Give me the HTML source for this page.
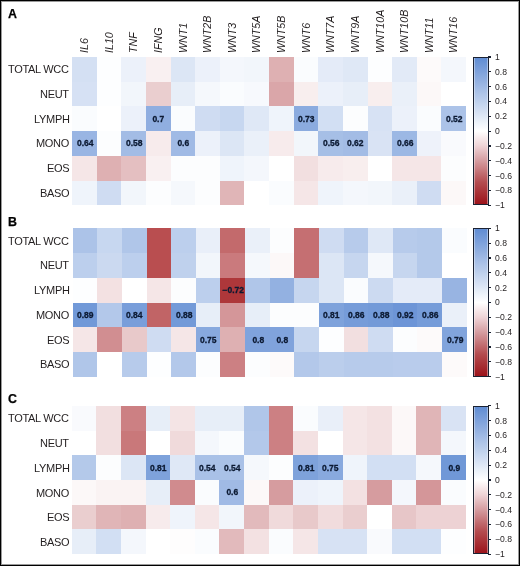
<!DOCTYPE html><html><head><meta charset="utf-8"><style>
html,body{margin:0;padding:0;background:#fff;}
body{width:520px;height:566px;position:relative;overflow:hidden;font-family:"Liberation Sans",sans-serif;color:#231f20;}
.frame{position:absolute;left:0;top:0;width:520px;height:566px;box-sizing:border-box;box-shadow:inset 0 0 0 1px #000, inset 0 0 0 2px #9a9a9a;z-index:10;pointer-events:none;}
.c{position:absolute;}
.pl{position:absolute;will-change:transform;font-weight:bold;font-size:12.4px;line-height:13px;color:#000;-webkit-text-stroke:0.25px #000;}
.rl{position:absolute;will-change:transform;right:450.9px;font-size:11px;line-height:12px;letter-spacing:-0.3px;text-align:right;white-space:nowrap;}
.cl{position:absolute;will-change:transform;font-size:10.7px;line-height:11px;font-style:italic;white-space:nowrap;transform:rotate(-90deg);transform-origin:0 0;}
.an{position:absolute;will-change:transform;font-weight:bold;font-size:8.5px;line-height:8px;color:#0c1a33;text-align:center;white-space:nowrap;-webkit-text-stroke:0.3px #0c1a33;}
.cb{position:absolute;box-sizing:border-box;border:1.5px solid #1b2233;box-shadow:inset 1px 0 0 rgba(255,255,255,0.4), inset -1px 0 0 rgba(255,255,255,0.4);}
.tk{position:absolute;height:1.2px;width:3px;background:#1b2233;}
.tl{position:absolute;will-change:transform;font-size:8.6px;line-height:9px;white-space:nowrap;}
</style></head><body>
<div class="frame"></div>

<div class="pl" style="left:7.6px;top:8.30px">A</div>
<div class="pl" style="left:7.6px;top:215.60px">B</div>
<div class="pl" style="left:7.6px;top:393.10px">C</div>
<div class="cl" style="left:79.11px;top:53.2px">IL6</div>
<div class="cl" style="left:103.74px;top:53.2px">IL10</div>
<div class="cl" style="left:128.36px;top:53.2px">TNF</div>
<div class="cl" style="left:152.99px;top:53.2px">IFNG</div>
<div class="cl" style="left:177.61px;top:53.2px">WNT1</div>
<div class="cl" style="left:202.24px;top:53.2px">WNT2B</div>
<div class="cl" style="left:226.86px;top:53.2px">WNT3</div>
<div class="cl" style="left:251.49px;top:53.2px">WNT5A</div>
<div class="cl" style="left:276.11px;top:53.2px">WNT5B</div>
<div class="cl" style="left:300.74px;top:53.2px">WNT6</div>
<div class="cl" style="left:325.36px;top:53.2px">WNT7A</div>
<div class="cl" style="left:349.99px;top:53.2px">WNT9A</div>
<div class="cl" style="left:374.61px;top:53.2px">WNT10A</div>
<div class="cl" style="left:399.24px;top:53.2px">WNT10B</div>
<div class="cl" style="left:423.86px;top:53.2px">WNT11</div>
<div class="cl" style="left:448.49px;top:53.2px">WNT16</div>
<div class="rl" style="top:63.07px">TOTAL WCC</div>
<div class="c" style="left:72.00px;top:57.00px;width:24.64px;height:24.75px;background:rgb(212,224,243)"></div>
<div class="c" style="left:96.62px;top:57.00px;width:24.64px;height:24.75px;background:rgb(253,254,255)"></div>
<div class="c" style="left:121.25px;top:57.00px;width:24.64px;height:24.75px;background:rgb(236,241,250)"></div>
<div class="c" style="left:145.88px;top:57.00px;width:24.64px;height:24.75px;background:rgb(249,240,241)"></div>
<div class="c" style="left:170.50px;top:57.00px;width:24.64px;height:24.75px;background:rgb(220,230,245)"></div>
<div class="c" style="left:195.12px;top:57.00px;width:24.64px;height:24.75px;background:rgb(236,241,250)"></div>
<div class="c" style="left:219.75px;top:57.00px;width:24.64px;height:24.75px;background:rgb(244,247,252)"></div>
<div class="c" style="left:244.38px;top:57.00px;width:24.64px;height:24.75px;background:rgb(242,246,251)"></div>
<div class="c" style="left:269.00px;top:57.00px;width:24.64px;height:24.75px;background:rgb(222,176,178)"></div>
<div class="c" style="left:293.62px;top:57.00px;width:24.64px;height:24.75px;background:rgb(250,252,254)"></div>
<div class="c" style="left:318.25px;top:57.00px;width:24.64px;height:24.75px;background:rgb(228,235,248)"></div>
<div class="c" style="left:342.88px;top:57.00px;width:24.64px;height:24.75px;background:rgb(223,232,246)"></div>
<div class="c" style="left:367.50px;top:57.00px;width:24.64px;height:24.75px;background:rgb(253,254,255)"></div>
<div class="c" style="left:392.12px;top:57.00px;width:24.64px;height:24.75px;background:rgb(226,234,247)"></div>
<div class="c" style="left:416.75px;top:57.00px;width:24.64px;height:24.75px;background:rgb(253,250,250)"></div>
<div class="c" style="left:441.38px;top:57.00px;width:24.64px;height:24.75px;background:rgb(244,247,252)"></div>
<div class="rl" style="top:87.80px">NEUT</div>
<div class="c" style="left:72.00px;top:81.73px;width:24.64px;height:24.75px;background:rgb(214,225,244)"></div>
<div class="c" style="left:96.62px;top:81.73px;width:24.64px;height:24.75px;background:rgb(253,254,255)"></div>
<div class="c" style="left:121.25px;top:81.73px;width:24.64px;height:24.75px;background:rgb(242,246,251)"></div>
<div class="c" style="left:145.88px;top:81.73px;width:24.64px;height:24.75px;background:rgb(234,206,207)"></div>
<div class="c" style="left:170.50px;top:81.73px;width:24.64px;height:24.75px;background:rgb(231,238,248)"></div>
<div class="c" style="left:195.12px;top:81.73px;width:24.64px;height:24.75px;background:rgb(245,248,252)"></div>
<div class="c" style="left:219.75px;top:81.73px;width:24.64px;height:24.75px;background:rgb(250,252,254)"></div>
<div class="c" style="left:244.38px;top:81.73px;width:24.64px;height:24.75px;background:rgb(247,249,253)"></div>
<div class="c" style="left:269.00px;top:81.73px;width:24.64px;height:24.75px;background:rgb(218,166,169)"></div>
<div class="c" style="left:293.62px;top:81.73px;width:24.64px;height:24.75px;background:rgb(248,238,238)"></div>
<div class="c" style="left:318.25px;top:81.73px;width:24.64px;height:24.75px;background:rgb(236,241,250)"></div>
<div class="c" style="left:342.88px;top:81.73px;width:24.64px;height:24.75px;background:rgb(231,238,248)"></div>
<div class="c" style="left:367.50px;top:81.73px;width:24.64px;height:24.75px;background:rgb(248,238,238)"></div>
<div class="c" style="left:392.12px;top:81.73px;width:24.64px;height:24.75px;background:rgb(234,240,249)"></div>
<div class="c" style="left:416.75px;top:81.73px;width:24.64px;height:24.75px;background:rgb(252,248,248)"></div>
<div class="c" style="left:441.38px;top:81.73px;width:24.64px;height:24.75px;background:rgb(255,255,255)"></div>
<div class="rl" style="top:112.53px">LYMPH</div>
<div class="c" style="left:72.00px;top:106.47px;width:24.64px;height:24.75px;background:rgb(250,252,254)"></div>
<div class="c" style="left:96.62px;top:106.47px;width:24.64px;height:24.75px;background:rgb(255,255,255)"></div>
<div class="c" style="left:121.25px;top:106.47px;width:24.64px;height:24.75px;background:rgb(236,241,250)"></div>
<div class="c" style="left:145.88px;top:106.47px;width:24.64px;height:24.75px;background:rgb(144,174,224)"></div>
<div class="an" style="left:146.38px;top:114.73px;width:24.62px">0.7</div>
<div class="c" style="left:170.50px;top:106.47px;width:24.64px;height:24.75px;background:rgb(250,252,254)"></div>
<div class="c" style="left:195.12px;top:106.47px;width:24.64px;height:24.75px;background:rgb(207,220,242)"></div>
<div class="c" style="left:219.75px;top:106.47px;width:24.64px;height:24.75px;background:rgb(199,215,240)"></div>
<div class="c" style="left:244.38px;top:106.47px;width:24.64px;height:24.75px;background:rgb(223,232,246)"></div>
<div class="c" style="left:269.00px;top:106.47px;width:24.64px;height:24.75px;background:rgb(239,244,251)"></div>
<div class="c" style="left:293.62px;top:106.47px;width:24.64px;height:24.75px;background:rgb(139,171,223)"></div>
<div class="an" style="left:294.12px;top:114.73px;width:24.62px">0.73</div>
<div class="c" style="left:318.25px;top:106.47px;width:24.64px;height:24.75px;background:rgb(210,223,243)"></div>
<div class="c" style="left:342.88px;top:106.47px;width:24.64px;height:24.75px;background:rgb(252,253,254)"></div>
<div class="c" style="left:367.50px;top:106.47px;width:24.64px;height:24.75px;background:rgb(215,226,244)"></div>
<div class="c" style="left:392.12px;top:106.47px;width:24.64px;height:24.75px;background:rgb(236,241,250)"></div>
<div class="c" style="left:416.75px;top:106.47px;width:24.64px;height:24.75px;background:rgb(250,252,254)"></div>
<div class="c" style="left:441.38px;top:106.47px;width:24.64px;height:24.75px;background:rgb(172,195,232)"></div>
<div class="an" style="left:441.88px;top:114.73px;width:24.62px">0.52</div>
<div class="rl" style="top:137.27px">MONO</div>
<div class="c" style="left:72.00px;top:131.20px;width:24.64px;height:24.75px;background:rgb(153,181,227)"></div>
<div class="an" style="left:72.50px;top:139.47px;width:24.62px">0.64</div>
<div class="c" style="left:96.62px;top:131.20px;width:24.64px;height:24.75px;background:rgb(252,253,254)"></div>
<div class="c" style="left:121.25px;top:131.20px;width:24.64px;height:24.75px;background:rgb(163,188,229)"></div>
<div class="an" style="left:121.75px;top:139.47px;width:24.62px">0.58</div>
<div class="c" style="left:145.88px;top:131.20px;width:24.64px;height:24.75px;background:rgb(247,235,236)"></div>
<div class="c" style="left:170.50px;top:131.20px;width:24.64px;height:24.75px;background:rgb(160,186,229)"></div>
<div class="an" style="left:171.00px;top:139.47px;width:24.62px">0.6</div>
<div class="c" style="left:195.12px;top:131.20px;width:24.64px;height:24.75px;background:rgb(236,241,250)"></div>
<div class="c" style="left:219.75px;top:131.20px;width:24.64px;height:24.75px;background:rgb(220,230,245)"></div>
<div class="c" style="left:244.38px;top:131.20px;width:24.64px;height:24.75px;background:rgb(234,240,249)"></div>
<div class="c" style="left:269.00px;top:131.20px;width:24.64px;height:24.75px;background:rgb(247,235,236)"></div>
<div class="c" style="left:293.62px;top:131.20px;width:24.64px;height:24.75px;background:rgb(242,246,251)"></div>
<div class="c" style="left:318.25px;top:131.20px;width:24.64px;height:24.75px;background:rgb(166,191,230)"></div>
<div class="an" style="left:318.75px;top:139.47px;width:24.62px">0.56</div>
<div class="c" style="left:342.88px;top:131.20px;width:24.64px;height:24.75px;background:rgb(163,188,229)"></div>
<div class="an" style="left:343.38px;top:139.47px;width:24.62px">0.62</div>
<div class="c" style="left:367.50px;top:131.20px;width:24.64px;height:24.75px;background:rgb(217,227,244)"></div>
<div class="c" style="left:392.12px;top:131.20px;width:24.64px;height:24.75px;background:rgb(156,184,228)"></div>
<div class="an" style="left:392.62px;top:139.47px;width:24.62px">0.66</div>
<div class="c" style="left:416.75px;top:131.20px;width:24.64px;height:24.75px;background:rgb(238,242,250)"></div>
<div class="c" style="left:441.38px;top:131.20px;width:24.64px;height:24.75px;background:rgb(249,250,253)"></div>
<div class="rl" style="top:162.00px">EOS</div>
<div class="c" style="left:72.00px;top:155.93px;width:24.64px;height:24.75px;background:rgb(245,230,231)"></div>
<div class="c" style="left:96.62px;top:155.93px;width:24.64px;height:24.75px;background:rgb(222,176,178)"></div>
<div class="c" style="left:121.25px;top:155.93px;width:24.64px;height:24.75px;background:rgb(228,191,193)"></div>
<div class="c" style="left:145.88px;top:155.93px;width:24.64px;height:24.75px;background:rgb(249,240,241)"></div>
<div class="c" style="left:170.50px;top:155.93px;width:24.64px;height:24.75px;background:rgb(252,253,254)"></div>
<div class="c" style="left:195.12px;top:155.93px;width:24.64px;height:24.75px;background:rgb(252,253,254)"></div>
<div class="c" style="left:219.75px;top:155.93px;width:24.64px;height:24.75px;background:rgb(239,244,251)"></div>
<div class="c" style="left:244.38px;top:155.93px;width:24.64px;height:24.75px;background:rgb(244,247,252)"></div>
<div class="c" style="left:269.00px;top:155.93px;width:24.64px;height:24.75px;background:rgb(255,255,255)"></div>
<div class="c" style="left:293.62px;top:155.93px;width:24.64px;height:24.75px;background:rgb(242,223,224)"></div>
<div class="c" style="left:318.25px;top:155.93px;width:24.64px;height:24.75px;background:rgb(247,235,236)"></div>
<div class="c" style="left:342.88px;top:155.93px;width:24.64px;height:24.75px;background:rgb(248,238,238)"></div>
<div class="c" style="left:367.50px;top:155.93px;width:24.64px;height:24.75px;background:rgb(255,255,255)"></div>
<div class="c" style="left:392.12px;top:155.93px;width:24.64px;height:24.75px;background:rgb(245,230,231)"></div>
<div class="c" style="left:416.75px;top:155.93px;width:24.64px;height:24.75px;background:rgb(245,230,231)"></div>
<div class="c" style="left:441.38px;top:155.93px;width:24.64px;height:24.75px;background:rgb(252,253,254)"></div>
<div class="rl" style="top:186.73px">BASO</div>
<div class="c" style="left:72.00px;top:180.67px;width:24.64px;height:24.75px;background:rgb(239,244,251)"></div>
<div class="c" style="left:96.62px;top:180.67px;width:24.64px;height:24.75px;background:rgb(207,220,242)"></div>
<div class="c" style="left:121.25px;top:180.67px;width:24.64px;height:24.75px;background:rgb(242,246,251)"></div>
<div class="c" style="left:145.88px;top:180.67px;width:24.64px;height:24.75px;background:rgb(252,253,254)"></div>
<div class="c" style="left:170.50px;top:180.67px;width:24.64px;height:24.75px;background:rgb(245,248,252)"></div>
<div class="c" style="left:195.12px;top:180.67px;width:24.64px;height:24.75px;background:rgb(252,253,254)"></div>
<div class="c" style="left:219.75px;top:180.67px;width:24.64px;height:24.75px;background:rgb(224,181,183)"></div>
<div class="c" style="left:244.38px;top:180.67px;width:24.64px;height:24.75px;background:rgb(255,255,255)"></div>
<div class="c" style="left:269.00px;top:180.67px;width:24.64px;height:24.75px;background:rgb(250,252,254)"></div>
<div class="c" style="left:293.62px;top:180.67px;width:24.64px;height:24.75px;background:rgb(245,230,231)"></div>
<div class="c" style="left:318.25px;top:180.67px;width:24.64px;height:24.75px;background:rgb(239,244,251)"></div>
<div class="c" style="left:342.88px;top:180.67px;width:24.64px;height:24.75px;background:rgb(244,247,252)"></div>
<div class="c" style="left:367.50px;top:180.67px;width:24.64px;height:24.75px;background:rgb(242,246,251)"></div>
<div class="c" style="left:392.12px;top:180.67px;width:24.64px;height:24.75px;background:rgb(234,240,249)"></div>
<div class="c" style="left:416.75px;top:180.67px;width:24.64px;height:24.75px;background:rgb(207,220,242)"></div>
<div class="c" style="left:441.38px;top:180.67px;width:24.64px;height:24.75px;background:rgb(252,248,248)"></div>
<div class="cb" style="left:473.0px;top:57.00px;width:15.5px;height:148.4px;background:linear-gradient(to bottom,rgb(96,140,211) 0.0%,rgb(104,146,213) 2.5%,rgb(112,152,215) 5.0%,rgb(120,157,218) 7.5%,rgb(128,163,220) 10.0%,rgb(136,169,222) 12.5%,rgb(144,174,224) 15.0%,rgb(152,180,226) 17.5%,rgb(160,186,229) 20.0%,rgb(168,192,231) 22.5%,rgb(176,198,233) 25.0%,rgb(183,203,235) 27.5%,rgb(191,209,237) 30.0%,rgb(199,215,240) 32.5%,rgb(207,220,242) 35.0%,rgb(215,226,244) 37.5%,rgb(223,232,246) 40.0%,rgb(231,238,248) 42.5%,rgb(239,244,251) 45.0%,rgb(247,249,253) 47.5%,rgb(255,255,255) 50.0%,rgb(251,244,245) 52.5%,rgb(247,233,235) 55.0%,rgb(243,223,225) 57.5%,rgb(239,212,215) 60.0%,rgb(233,198,202) 62.5%,rgb(226,185,188) 65.0%,rgb(220,171,175) 67.5%,rgb(214,158,162) 70.0%,rgb(208,144,148) 72.5%,rgb(203,131,135) 75.0%,rgb(197,117,121) 77.5%,rgb(191,103,107) 80.0%,rgb(186,90,94) 82.5%,rgb(180,76,80) 85.0%,rgb(176,67,71) 87.5%,rgb(172,57,62) 90.0%,rgb(168,48,53) 92.5%,rgb(164,39,45) 95.0%,rgb(160,29,36) 97.5%,rgb(156,20,27) 100.0%)"></div>
<div class="tk" style="left:488.30px;top:56.40px"></div>
<div class="tl" style="left:494.8px;top:52.90px">1</div>
<div class="tk" style="left:488.30px;top:71.24px"></div>
<div class="tl" style="left:494.8px;top:67.74px">0.8</div>
<div class="tk" style="left:488.30px;top:86.08px"></div>
<div class="tl" style="left:494.8px;top:82.58px">0.6</div>
<div class="tk" style="left:488.30px;top:100.92px"></div>
<div class="tl" style="left:494.8px;top:97.42px">0.4</div>
<div class="tk" style="left:488.30px;top:115.76px"></div>
<div class="tl" style="left:494.8px;top:112.26px">0.2</div>
<div class="tk" style="left:488.30px;top:130.60px"></div>
<div class="tl" style="left:494.8px;top:127.10px">0</div>
<div class="tk" style="left:488.30px;top:145.44px"></div>
<div class="tl" style="left:494.8px;top:141.94px">−0.2</div>
<div class="tk" style="left:488.30px;top:160.28px"></div>
<div class="tl" style="left:494.8px;top:156.78px">−0.4</div>
<div class="tk" style="left:488.30px;top:175.12px"></div>
<div class="tl" style="left:494.8px;top:171.62px">−0.6</div>
<div class="tk" style="left:488.30px;top:189.96px"></div>
<div class="tl" style="left:494.8px;top:186.46px">−0.8</div>
<div class="tk" style="left:488.30px;top:204.80px"></div>
<div class="tl" style="left:494.8px;top:201.30px">−1</div>
<div class="rl" style="top:234.57px">TOTAL WCC</div>
<div class="c" style="left:72.70px;top:228.30px;width:24.64px;height:24.75px;background:rgb(172,195,232)"></div>
<div class="c" style="left:97.33px;top:228.30px;width:24.64px;height:24.75px;background:rgb(199,215,240)"></div>
<div class="c" style="left:121.95px;top:228.30px;width:24.64px;height:24.75px;background:rgb(176,198,233)"></div>
<div class="c" style="left:146.57px;top:228.30px;width:24.64px;height:24.75px;background:rgb(185,78,80)"></div>
<div class="c" style="left:171.20px;top:228.30px;width:24.64px;height:24.75px;background:rgb(188,207,237)"></div>
<div class="c" style="left:195.82px;top:228.30px;width:24.64px;height:24.75px;background:rgb(233,239,249)"></div>
<div class="c" style="left:220.45px;top:228.30px;width:24.64px;height:24.75px;background:rgb(195,106,108)"></div>
<div class="c" style="left:245.07px;top:228.30px;width:24.64px;height:24.75px;background:rgb(234,240,249)"></div>
<div class="c" style="left:269.70px;top:228.30px;width:24.64px;height:24.75px;background:rgb(252,253,254)"></div>
<div class="c" style="left:294.32px;top:228.30px;width:24.64px;height:24.75px;background:rgb(197,111,114)"></div>
<div class="c" style="left:318.95px;top:228.30px;width:24.64px;height:24.75px;background:rgb(207,220,242)"></div>
<div class="c" style="left:343.57px;top:228.30px;width:24.64px;height:24.75px;background:rgb(183,203,235)"></div>
<div class="c" style="left:368.20px;top:228.30px;width:24.64px;height:24.75px;background:rgb(223,232,246)"></div>
<div class="c" style="left:392.82px;top:228.30px;width:24.64px;height:24.75px;background:rgb(183,203,235)"></div>
<div class="c" style="left:417.45px;top:228.30px;width:24.64px;height:24.75px;background:rgb(180,201,234)"></div>
<div class="c" style="left:442.07px;top:228.30px;width:24.64px;height:24.75px;background:rgb(250,252,254)"></div>
<div class="rl" style="top:259.30px">NEUT</div>
<div class="c" style="left:72.70px;top:253.03px;width:24.64px;height:24.75px;background:rgb(188,207,237)"></div>
<div class="c" style="left:97.33px;top:253.03px;width:24.64px;height:24.75px;background:rgb(203,217,240)"></div>
<div class="c" style="left:121.95px;top:253.03px;width:24.64px;height:24.75px;background:rgb(188,207,237)"></div>
<div class="c" style="left:146.57px;top:253.03px;width:24.64px;height:24.75px;background:rgb(185,78,80)"></div>
<div class="c" style="left:171.20px;top:253.03px;width:24.64px;height:24.75px;background:rgb(191,209,237)"></div>
<div class="c" style="left:195.82px;top:253.03px;width:24.64px;height:24.75px;background:rgb(242,246,251)"></div>
<div class="c" style="left:220.45px;top:253.03px;width:24.64px;height:24.75px;background:rgb(202,122,125)"></div>
<div class="c" style="left:245.07px;top:253.03px;width:24.64px;height:24.75px;background:rgb(245,248,252)"></div>
<div class="c" style="left:269.70px;top:253.03px;width:24.64px;height:24.75px;background:rgb(252,248,248)"></div>
<div class="c" style="left:294.32px;top:253.03px;width:24.64px;height:24.75px;background:rgb(197,111,114)"></div>
<div class="c" style="left:318.95px;top:253.03px;width:24.64px;height:24.75px;background:rgb(220,230,245)"></div>
<div class="c" style="left:343.57px;top:253.03px;width:24.64px;height:24.75px;background:rgb(198,214,239)"></div>
<div class="c" style="left:368.20px;top:253.03px;width:24.64px;height:24.75px;background:rgb(245,248,252)"></div>
<div class="c" style="left:392.82px;top:253.03px;width:24.64px;height:24.75px;background:rgb(198,214,239)"></div>
<div class="c" style="left:417.45px;top:253.03px;width:24.64px;height:24.75px;background:rgb(180,201,234)"></div>
<div class="c" style="left:442.07px;top:253.03px;width:24.64px;height:24.75px;background:rgb(255,255,255)"></div>
<div class="rl" style="top:284.03px">LYMPH</div>
<div class="c" style="left:72.70px;top:277.77px;width:24.64px;height:24.75px;background:rgb(253,254,255)"></div>
<div class="c" style="left:97.33px;top:277.77px;width:24.64px;height:24.75px;background:rgb(243,225,226)"></div>
<div class="c" style="left:121.95px;top:277.77px;width:24.64px;height:24.75px;background:rgb(255,255,255)"></div>
<div class="c" style="left:146.57px;top:277.77px;width:24.64px;height:24.75px;background:rgb(245,230,231)"></div>
<div class="c" style="left:171.20px;top:277.77px;width:24.64px;height:24.75px;background:rgb(252,253,254)"></div>
<div class="c" style="left:195.82px;top:277.77px;width:24.64px;height:24.75px;background:rgb(188,207,237)"></div>
<div class="c" style="left:220.45px;top:277.77px;width:24.64px;height:24.75px;background:rgb(174,55,58)"></div>
<div class="an" style="left:220.95px;top:286.03px;width:24.62px">−0.72</div>
<div class="c" style="left:245.07px;top:277.77px;width:24.64px;height:24.75px;background:rgb(176,198,233)"></div>
<div class="c" style="left:269.70px;top:277.77px;width:24.64px;height:24.75px;background:rgb(147,177,225)"></div>
<div class="c" style="left:294.32px;top:277.77px;width:24.64px;height:24.75px;background:rgb(198,214,239)"></div>
<div class="c" style="left:318.95px;top:277.77px;width:24.64px;height:24.75px;background:rgb(220,230,245)"></div>
<div class="c" style="left:343.57px;top:277.77px;width:24.64px;height:24.75px;background:rgb(250,252,254)"></div>
<div class="c" style="left:368.20px;top:277.77px;width:24.64px;height:24.75px;background:rgb(204,218,241)"></div>
<div class="c" style="left:392.82px;top:277.77px;width:24.64px;height:24.75px;background:rgb(228,235,248)"></div>
<div class="c" style="left:417.45px;top:277.77px;width:24.64px;height:24.75px;background:rgb(228,235,248)"></div>
<div class="c" style="left:442.07px;top:277.77px;width:24.64px;height:24.75px;background:rgb(152,180,226)"></div>
<div class="rl" style="top:308.77px">MONO</div>
<div class="c" style="left:72.70px;top:302.50px;width:24.64px;height:24.75px;background:rgb(113,153,216)"></div>
<div class="an" style="left:73.20px;top:310.77px;width:24.62px">0.89</div>
<div class="c" style="left:97.33px;top:302.50px;width:24.64px;height:24.75px;background:rgb(179,200,234)"></div>
<div class="c" style="left:121.95px;top:302.50px;width:24.64px;height:24.75px;background:rgb(121,158,218)"></div>
<div class="an" style="left:122.45px;top:310.77px;width:24.62px">0.84</div>
<div class="c" style="left:146.57px;top:302.50px;width:24.64px;height:24.75px;background:rgb(193,100,102)"></div>
<div class="c" style="left:171.20px;top:302.50px;width:24.64px;height:24.75px;background:rgb(115,154,216)"></div>
<div class="an" style="left:171.70px;top:310.77px;width:24.62px">0.88</div>
<div class="c" style="left:195.82px;top:302.50px;width:24.64px;height:24.75px;background:rgb(231,238,248)"></div>
<div class="c" style="left:220.45px;top:302.50px;width:24.64px;height:24.75px;background:rgb(212,150,153)"></div>
<div class="c" style="left:245.07px;top:302.50px;width:24.64px;height:24.75px;background:rgb(231,238,248)"></div>
<div class="c" style="left:269.70px;top:302.50px;width:24.64px;height:24.75px;background:rgb(252,253,254)"></div>
<div class="c" style="left:294.32px;top:302.50px;width:24.64px;height:24.75px;background:rgb(252,253,254)"></div>
<div class="c" style="left:318.95px;top:302.50px;width:24.64px;height:24.75px;background:rgb(126,162,219)"></div>
<div class="an" style="left:319.45px;top:310.77px;width:24.62px">0.81</div>
<div class="c" style="left:343.57px;top:302.50px;width:24.64px;height:24.75px;background:rgb(118,156,217)"></div>
<div class="an" style="left:344.07px;top:310.77px;width:24.62px">0.86</div>
<div class="c" style="left:368.20px;top:302.50px;width:24.64px;height:24.75px;background:rgb(115,154,216)"></div>
<div class="an" style="left:368.70px;top:310.77px;width:24.62px">0.88</div>
<div class="c" style="left:392.82px;top:302.50px;width:24.64px;height:24.75px;background:rgb(109,149,215)"></div>
<div class="an" style="left:393.32px;top:310.77px;width:24.62px">0.92</div>
<div class="c" style="left:417.45px;top:302.50px;width:24.64px;height:24.75px;background:rgb(118,156,217)"></div>
<div class="an" style="left:417.95px;top:310.77px;width:24.62px">0.86</div>
<div class="c" style="left:442.07px;top:302.50px;width:24.64px;height:24.75px;background:rgb(234,240,249)"></div>
<div class="rl" style="top:333.50px">EOS</div>
<div class="c" style="left:72.70px;top:327.23px;width:24.64px;height:24.75px;background:rgb(245,230,231)"></div>
<div class="c" style="left:97.33px;top:327.23px;width:24.64px;height:24.75px;background:rgb(209,142,145)"></div>
<div class="c" style="left:121.95px;top:327.23px;width:24.64px;height:24.75px;background:rgb(232,201,202)"></div>
<div class="c" style="left:146.57px;top:327.23px;width:24.64px;height:24.75px;background:rgb(207,220,242)"></div>
<div class="c" style="left:171.20px;top:327.23px;width:24.64px;height:24.75px;background:rgb(245,230,231)"></div>
<div class="c" style="left:195.82px;top:327.23px;width:24.64px;height:24.75px;background:rgb(136,169,222)"></div>
<div class="an" style="left:196.32px;top:335.50px;width:24.62px">0.75</div>
<div class="c" style="left:220.45px;top:327.23px;width:24.64px;height:24.75px;background:rgb(222,176,178)"></div>
<div class="c" style="left:245.07px;top:327.23px;width:24.64px;height:24.75px;background:rgb(128,163,220)"></div>
<div class="an" style="left:245.57px;top:335.50px;width:24.62px">0.8</div>
<div class="c" style="left:269.70px;top:327.23px;width:24.64px;height:24.75px;background:rgb(128,163,220)"></div>
<div class="an" style="left:270.20px;top:335.50px;width:24.62px">0.8</div>
<div class="c" style="left:294.32px;top:327.23px;width:24.64px;height:24.75px;background:rgb(198,214,239)"></div>
<div class="c" style="left:318.95px;top:327.23px;width:24.64px;height:24.75px;background:rgb(253,254,255)"></div>
<div class="c" style="left:343.57px;top:327.23px;width:24.64px;height:24.75px;background:rgb(242,223,224)"></div>
<div class="c" style="left:368.20px;top:327.23px;width:24.64px;height:24.75px;background:rgb(207,220,242)"></div>
<div class="c" style="left:392.82px;top:327.23px;width:24.64px;height:24.75px;background:rgb(252,253,254)"></div>
<div class="c" style="left:417.45px;top:327.23px;width:24.64px;height:24.75px;background:rgb(253,250,250)"></div>
<div class="c" style="left:442.07px;top:327.23px;width:24.64px;height:24.75px;background:rgb(129,164,220)"></div>
<div class="an" style="left:442.57px;top:335.50px;width:24.62px">0.79</div>
<div class="rl" style="top:358.23px">BASO</div>
<div class="c" style="left:72.70px;top:351.97px;width:24.64px;height:24.75px;background:rgb(176,198,233)"></div>
<div class="c" style="left:97.33px;top:351.97px;width:24.64px;height:24.75px;background:rgb(255,255,255)"></div>
<div class="c" style="left:121.95px;top:351.97px;width:24.64px;height:24.75px;background:rgb(183,203,235)"></div>
<div class="c" style="left:146.57px;top:351.97px;width:24.64px;height:24.75px;background:rgb(253,254,255)"></div>
<div class="c" style="left:171.20px;top:351.97px;width:24.64px;height:24.75px;background:rgb(179,200,234)"></div>
<div class="c" style="left:195.82px;top:351.97px;width:24.64px;height:24.75px;background:rgb(252,253,254)"></div>
<div class="c" style="left:220.45px;top:351.97px;width:24.64px;height:24.75px;background:rgb(204,128,131)"></div>
<div class="c" style="left:245.07px;top:351.97px;width:24.64px;height:24.75px;background:rgb(252,253,254)"></div>
<div class="c" style="left:269.70px;top:351.97px;width:24.64px;height:24.75px;background:rgb(253,250,250)"></div>
<div class="c" style="left:294.32px;top:351.97px;width:24.64px;height:24.75px;background:rgb(179,200,234)"></div>
<div class="c" style="left:318.95px;top:351.97px;width:24.64px;height:24.75px;background:rgb(187,206,236)"></div>
<div class="c" style="left:343.57px;top:351.97px;width:24.64px;height:24.75px;background:rgb(183,203,235)"></div>
<div class="c" style="left:368.20px;top:351.97px;width:24.64px;height:24.75px;background:rgb(183,203,235)"></div>
<div class="c" style="left:392.82px;top:351.97px;width:24.64px;height:24.75px;background:rgb(185,204,236)"></div>
<div class="c" style="left:417.45px;top:351.97px;width:24.64px;height:24.75px;background:rgb(185,204,236)"></div>
<div class="c" style="left:442.07px;top:351.97px;width:24.64px;height:24.75px;background:rgb(253,250,250)"></div>
<div class="cb" style="left:473.0px;top:228.30px;width:15.5px;height:148.4px;background:linear-gradient(to bottom,rgb(96,140,211) 0.0%,rgb(104,146,213) 2.5%,rgb(112,152,215) 5.0%,rgb(120,157,218) 7.5%,rgb(128,163,220) 10.0%,rgb(136,169,222) 12.5%,rgb(144,174,224) 15.0%,rgb(152,180,226) 17.5%,rgb(160,186,229) 20.0%,rgb(168,192,231) 22.5%,rgb(176,198,233) 25.0%,rgb(183,203,235) 27.5%,rgb(191,209,237) 30.0%,rgb(199,215,240) 32.5%,rgb(207,220,242) 35.0%,rgb(215,226,244) 37.5%,rgb(223,232,246) 40.0%,rgb(231,238,248) 42.5%,rgb(239,244,251) 45.0%,rgb(247,249,253) 47.5%,rgb(255,255,255) 50.0%,rgb(251,244,245) 52.5%,rgb(247,233,235) 55.0%,rgb(243,223,225) 57.5%,rgb(239,212,215) 60.0%,rgb(233,198,202) 62.5%,rgb(226,185,188) 65.0%,rgb(220,171,175) 67.5%,rgb(214,158,162) 70.0%,rgb(208,144,148) 72.5%,rgb(203,131,135) 75.0%,rgb(197,117,121) 77.5%,rgb(191,103,107) 80.0%,rgb(186,90,94) 82.5%,rgb(180,76,80) 85.0%,rgb(176,67,71) 87.5%,rgb(172,57,62) 90.0%,rgb(168,48,53) 92.5%,rgb(164,39,45) 95.0%,rgb(160,29,36) 97.5%,rgb(156,20,27) 100.0%)"></div>
<div class="tk" style="left:488.30px;top:227.70px"></div>
<div class="tl" style="left:494.8px;top:224.20px">1</div>
<div class="tk" style="left:488.30px;top:242.54px"></div>
<div class="tl" style="left:494.8px;top:239.04px">0.8</div>
<div class="tk" style="left:488.30px;top:257.38px"></div>
<div class="tl" style="left:494.8px;top:253.88px">0.6</div>
<div class="tk" style="left:488.30px;top:272.22px"></div>
<div class="tl" style="left:494.8px;top:268.72px">0.4</div>
<div class="tk" style="left:488.30px;top:287.06px"></div>
<div class="tl" style="left:494.8px;top:283.56px">0.2</div>
<div class="tk" style="left:488.30px;top:301.90px"></div>
<div class="tl" style="left:494.8px;top:298.40px">0</div>
<div class="tk" style="left:488.30px;top:316.74px"></div>
<div class="tl" style="left:494.8px;top:313.24px">−0.2</div>
<div class="tk" style="left:488.30px;top:331.58px"></div>
<div class="tl" style="left:494.8px;top:328.08px">−0.4</div>
<div class="tk" style="left:488.30px;top:346.42px"></div>
<div class="tl" style="left:494.8px;top:342.92px">−0.6</div>
<div class="tk" style="left:488.30px;top:361.26px"></div>
<div class="tl" style="left:494.8px;top:357.76px">−0.8</div>
<div class="tk" style="left:488.30px;top:376.10px"></div>
<div class="tl" style="left:494.8px;top:372.60px">−1</div>
<div class="rl" style="top:412.37px">TOTAL WCC</div>
<div class="c" style="left:71.70px;top:405.80px;width:24.64px;height:24.75px;background:rgb(249,250,253)"></div>
<div class="c" style="left:96.33px;top:405.80px;width:24.64px;height:24.75px;background:rgb(242,223,224)"></div>
<div class="c" style="left:120.95px;top:405.80px;width:24.64px;height:24.75px;background:rgb(204,128,131)"></div>
<div class="c" style="left:145.57px;top:405.80px;width:24.64px;height:24.75px;background:rgb(231,238,248)"></div>
<div class="c" style="left:170.20px;top:405.80px;width:24.64px;height:24.75px;background:rgb(244,228,229)"></div>
<div class="c" style="left:194.82px;top:405.80px;width:24.64px;height:24.75px;background:rgb(231,238,248)"></div>
<div class="c" style="left:219.45px;top:405.80px;width:24.64px;height:24.75px;background:rgb(231,238,248)"></div>
<div class="c" style="left:244.07px;top:405.80px;width:24.64px;height:24.75px;background:rgb(176,198,233)"></div>
<div class="c" style="left:268.70px;top:405.80px;width:24.64px;height:24.75px;background:rgb(204,128,131)"></div>
<div class="c" style="left:293.32px;top:405.80px;width:24.64px;height:24.75px;background:rgb(250,252,254)"></div>
<div class="c" style="left:317.95px;top:405.80px;width:24.64px;height:24.75px;background:rgb(233,239,249)"></div>
<div class="c" style="left:342.57px;top:405.80px;width:24.64px;height:24.75px;background:rgb(245,230,231)"></div>
<div class="c" style="left:367.20px;top:405.80px;width:24.64px;height:24.75px;background:rgb(243,225,226)"></div>
<div class="c" style="left:391.82px;top:405.80px;width:24.64px;height:24.75px;background:rgb(252,248,248)"></div>
<div class="c" style="left:416.45px;top:405.80px;width:24.64px;height:24.75px;background:rgb(224,181,183)"></div>
<div class="c" style="left:441.07px;top:405.80px;width:24.64px;height:24.75px;background:rgb(217,227,244)"></div>
<div class="rl" style="top:437.10px">NEUT</div>
<div class="c" style="left:71.70px;top:430.53px;width:24.64px;height:24.75px;background:rgb(255,255,255)"></div>
<div class="c" style="left:96.33px;top:430.53px;width:24.64px;height:24.75px;background:rgb(242,223,224)"></div>
<div class="c" style="left:120.95px;top:430.53px;width:24.64px;height:24.75px;background:rgb(201,120,122)"></div>
<div class="c" style="left:145.57px;top:430.53px;width:24.64px;height:24.75px;background:rgb(255,255,255)"></div>
<div class="c" style="left:170.20px;top:430.53px;width:24.64px;height:24.75px;background:rgb(240,218,219)"></div>
<div class="c" style="left:194.82px;top:430.53px;width:24.64px;height:24.75px;background:rgb(244,247,252)"></div>
<div class="c" style="left:219.45px;top:430.53px;width:24.64px;height:24.75px;background:rgb(250,252,254)"></div>
<div class="c" style="left:244.07px;top:430.53px;width:24.64px;height:24.75px;background:rgb(179,200,234)"></div>
<div class="c" style="left:268.70px;top:430.53px;width:24.64px;height:24.75px;background:rgb(204,128,131)"></div>
<div class="c" style="left:293.32px;top:430.53px;width:24.64px;height:24.75px;background:rgb(243,225,226)"></div>
<div class="c" style="left:317.95px;top:430.53px;width:24.64px;height:24.75px;background:rgb(255,255,255)"></div>
<div class="c" style="left:342.57px;top:430.53px;width:24.64px;height:24.75px;background:rgb(245,230,231)"></div>
<div class="c" style="left:367.20px;top:430.53px;width:24.64px;height:24.75px;background:rgb(243,225,226)"></div>
<div class="c" style="left:391.82px;top:430.53px;width:24.64px;height:24.75px;background:rgb(252,248,248)"></div>
<div class="c" style="left:416.45px;top:430.53px;width:24.64px;height:24.75px;background:rgb(224,181,183)"></div>
<div class="c" style="left:441.07px;top:430.53px;width:24.64px;height:24.75px;background:rgb(244,247,252)"></div>
<div class="rl" style="top:461.83px">LYMPH</div>
<div class="c" style="left:71.70px;top:455.27px;width:24.64px;height:24.75px;background:rgb(180,201,234)"></div>
<div class="c" style="left:96.33px;top:455.27px;width:24.64px;height:24.75px;background:rgb(252,253,254)"></div>
<div class="c" style="left:120.95px;top:455.27px;width:24.64px;height:24.75px;background:rgb(220,230,245)"></div>
<div class="c" style="left:145.57px;top:455.27px;width:24.64px;height:24.75px;background:rgb(126,162,219)"></div>
<div class="an" style="left:146.07px;top:463.53px;width:24.62px">0.81</div>
<div class="c" style="left:170.20px;top:455.27px;width:24.64px;height:24.75px;background:rgb(223,232,246)"></div>
<div class="c" style="left:194.82px;top:455.27px;width:24.64px;height:24.75px;background:rgb(169,193,231)"></div>
<div class="an" style="left:195.32px;top:463.53px;width:24.62px">0.54</div>
<div class="c" style="left:219.45px;top:455.27px;width:24.64px;height:24.75px;background:rgb(169,193,231)"></div>
<div class="an" style="left:219.95px;top:463.53px;width:24.62px">0.54</div>
<div class="c" style="left:244.07px;top:455.27px;width:24.64px;height:24.75px;background:rgb(245,248,252)"></div>
<div class="c" style="left:268.70px;top:455.27px;width:24.64px;height:24.75px;background:rgb(252,253,254)"></div>
<div class="c" style="left:293.32px;top:455.27px;width:24.64px;height:24.75px;background:rgb(126,162,219)"></div>
<div class="an" style="left:293.82px;top:463.53px;width:24.62px">0.81</div>
<div class="c" style="left:317.95px;top:455.27px;width:24.64px;height:24.75px;background:rgb(136,169,222)"></div>
<div class="an" style="left:318.45px;top:463.53px;width:24.62px">0.75</div>
<div class="c" style="left:342.57px;top:455.27px;width:24.64px;height:24.75px;background:rgb(239,244,251)"></div>
<div class="c" style="left:367.20px;top:455.27px;width:24.64px;height:24.75px;background:rgb(210,223,243)"></div>
<div class="c" style="left:391.82px;top:455.27px;width:24.64px;height:24.75px;background:rgb(210,223,243)"></div>
<div class="c" style="left:416.45px;top:455.27px;width:24.64px;height:24.75px;background:rgb(245,248,252)"></div>
<div class="c" style="left:441.07px;top:455.27px;width:24.64px;height:24.75px;background:rgb(112,152,215)"></div>
<div class="an" style="left:441.57px;top:463.53px;width:24.62px">0.9</div>
<div class="rl" style="top:486.57px">MONO</div>
<div class="c" style="left:71.70px;top:480.00px;width:24.64px;height:24.75px;background:rgb(252,248,248)"></div>
<div class="c" style="left:96.33px;top:480.00px;width:24.64px;height:24.75px;background:rgb(250,243,243)"></div>
<div class="c" style="left:120.95px;top:480.00px;width:24.64px;height:24.75px;background:rgb(250,243,243)"></div>
<div class="c" style="left:145.57px;top:480.00px;width:24.64px;height:24.75px;background:rgb(231,238,248)"></div>
<div class="c" style="left:170.20px;top:480.00px;width:24.64px;height:24.75px;background:rgb(208,139,142)"></div>
<div class="c" style="left:194.82px;top:480.00px;width:24.64px;height:24.75px;background:rgb(250,252,254)"></div>
<div class="c" style="left:219.45px;top:480.00px;width:24.64px;height:24.75px;background:rgb(160,186,229)"></div>
<div class="an" style="left:219.95px;top:488.27px;width:24.62px">0.6</div>
<div class="c" style="left:244.07px;top:480.00px;width:24.64px;height:24.75px;background:rgb(252,248,248)"></div>
<div class="c" style="left:268.70px;top:480.00px;width:24.64px;height:24.75px;background:rgb(214,156,159)"></div>
<div class="c" style="left:293.32px;top:480.00px;width:24.64px;height:24.75px;background:rgb(236,241,250)"></div>
<div class="c" style="left:317.95px;top:480.00px;width:24.64px;height:24.75px;background:rgb(239,244,251)"></div>
<div class="c" style="left:342.57px;top:480.00px;width:24.64px;height:24.75px;background:rgb(243,225,226)"></div>
<div class="c" style="left:367.20px;top:480.00px;width:24.64px;height:24.75px;background:rgb(214,156,159)"></div>
<div class="c" style="left:391.82px;top:480.00px;width:24.64px;height:24.75px;background:rgb(244,247,252)"></div>
<div class="c" style="left:416.45px;top:480.00px;width:24.64px;height:24.75px;background:rgb(212,150,153)"></div>
<div class="c" style="left:441.07px;top:480.00px;width:24.64px;height:24.75px;background:rgb(250,252,254)"></div>
<div class="rl" style="top:511.30px">EOS</div>
<div class="c" style="left:71.70px;top:504.73px;width:24.64px;height:24.75px;background:rgb(234,206,207)"></div>
<div class="c" style="left:96.33px;top:504.73px;width:24.64px;height:24.75px;background:rgb(224,181,183)"></div>
<div class="c" style="left:120.95px;top:504.73px;width:24.64px;height:24.75px;background:rgb(222,176,178)"></div>
<div class="c" style="left:145.57px;top:504.73px;width:24.64px;height:24.75px;background:rgb(247,235,236)"></div>
<div class="c" style="left:170.20px;top:504.73px;width:24.64px;height:24.75px;background:rgb(239,244,251)"></div>
<div class="c" style="left:194.82px;top:504.73px;width:24.64px;height:24.75px;background:rgb(245,230,231)"></div>
<div class="c" style="left:219.45px;top:504.73px;width:24.64px;height:24.75px;background:rgb(242,246,251)"></div>
<div class="c" style="left:244.07px;top:504.73px;width:24.64px;height:24.75px;background:rgb(226,186,188)"></div>
<div class="c" style="left:268.70px;top:504.73px;width:24.64px;height:24.75px;background:rgb(240,218,219)"></div>
<div class="c" style="left:293.32px;top:504.73px;width:24.64px;height:24.75px;background:rgb(232,201,202)"></div>
<div class="c" style="left:317.95px;top:504.73px;width:24.64px;height:24.75px;background:rgb(241,220,221)"></div>
<div class="c" style="left:342.57px;top:504.73px;width:24.64px;height:24.75px;background:rgb(234,206,207)"></div>
<div class="c" style="left:367.20px;top:504.73px;width:24.64px;height:24.75px;background:rgb(255,255,255)"></div>
<div class="c" style="left:391.82px;top:504.73px;width:24.64px;height:24.75px;background:rgb(231,198,200)"></div>
<div class="c" style="left:416.45px;top:504.73px;width:24.64px;height:24.75px;background:rgb(237,210,212)"></div>
<div class="c" style="left:441.07px;top:504.73px;width:24.64px;height:24.75px;background:rgb(237,210,212)"></div>
<div class="rl" style="top:536.03px">BASO</div>
<div class="c" style="left:71.70px;top:529.47px;width:24.64px;height:24.75px;background:rgb(231,238,248)"></div>
<div class="c" style="left:96.33px;top:529.47px;width:24.64px;height:24.75px;background:rgb(210,223,243)"></div>
<div class="c" style="left:120.95px;top:529.47px;width:24.64px;height:24.75px;background:rgb(244,247,252)"></div>
<div class="c" style="left:145.57px;top:529.47px;width:24.64px;height:24.75px;background:rgb(255,255,255)"></div>
<div class="c" style="left:170.20px;top:529.47px;width:24.64px;height:24.75px;background:rgb(254,253,253)"></div>
<div class="c" style="left:194.82px;top:529.47px;width:24.64px;height:24.75px;background:rgb(250,252,254)"></div>
<div class="c" style="left:219.45px;top:529.47px;width:24.64px;height:24.75px;background:rgb(226,186,188)"></div>
<div class="c" style="left:244.07px;top:529.47px;width:24.64px;height:24.75px;background:rgb(243,225,226)"></div>
<div class="c" style="left:268.70px;top:529.47px;width:24.64px;height:24.75px;background:rgb(250,252,254)"></div>
<div class="c" style="left:293.32px;top:529.47px;width:24.64px;height:24.75px;background:rgb(245,230,231)"></div>
<div class="c" style="left:317.95px;top:529.47px;width:24.64px;height:24.75px;background:rgb(215,226,244)"></div>
<div class="c" style="left:342.57px;top:529.47px;width:24.64px;height:24.75px;background:rgb(215,226,244)"></div>
<div class="c" style="left:367.20px;top:529.47px;width:24.64px;height:24.75px;background:rgb(249,250,253)"></div>
<div class="c" style="left:391.82px;top:529.47px;width:24.64px;height:24.75px;background:rgb(210,223,243)"></div>
<div class="c" style="left:416.45px;top:529.47px;width:24.64px;height:24.75px;background:rgb(210,223,243)"></div>
<div class="c" style="left:441.07px;top:529.47px;width:24.64px;height:24.75px;background:rgb(253,254,255)"></div>
<div class="cb" style="left:473.0px;top:405.80px;width:15.5px;height:148.4px;background:linear-gradient(to bottom,rgb(96,140,211) 0.0%,rgb(104,146,213) 2.5%,rgb(112,152,215) 5.0%,rgb(120,157,218) 7.5%,rgb(128,163,220) 10.0%,rgb(136,169,222) 12.5%,rgb(144,174,224) 15.0%,rgb(152,180,226) 17.5%,rgb(160,186,229) 20.0%,rgb(168,192,231) 22.5%,rgb(176,198,233) 25.0%,rgb(183,203,235) 27.5%,rgb(191,209,237) 30.0%,rgb(199,215,240) 32.5%,rgb(207,220,242) 35.0%,rgb(215,226,244) 37.5%,rgb(223,232,246) 40.0%,rgb(231,238,248) 42.5%,rgb(239,244,251) 45.0%,rgb(247,249,253) 47.5%,rgb(255,255,255) 50.0%,rgb(251,244,245) 52.5%,rgb(247,233,235) 55.0%,rgb(243,223,225) 57.5%,rgb(239,212,215) 60.0%,rgb(233,198,202) 62.5%,rgb(226,185,188) 65.0%,rgb(220,171,175) 67.5%,rgb(214,158,162) 70.0%,rgb(208,144,148) 72.5%,rgb(203,131,135) 75.0%,rgb(197,117,121) 77.5%,rgb(191,103,107) 80.0%,rgb(186,90,94) 82.5%,rgb(180,76,80) 85.0%,rgb(176,67,71) 87.5%,rgb(172,57,62) 90.0%,rgb(168,48,53) 92.5%,rgb(164,39,45) 95.0%,rgb(160,29,36) 97.5%,rgb(156,20,27) 100.0%)"></div>
<div class="tk" style="left:488.30px;top:405.20px"></div>
<div class="tl" style="left:494.8px;top:401.70px">1</div>
<div class="tk" style="left:488.30px;top:420.04px"></div>
<div class="tl" style="left:494.8px;top:416.54px">0.8</div>
<div class="tk" style="left:488.30px;top:434.88px"></div>
<div class="tl" style="left:494.8px;top:431.38px">0.6</div>
<div class="tk" style="left:488.30px;top:449.72px"></div>
<div class="tl" style="left:494.8px;top:446.22px">0.4</div>
<div class="tk" style="left:488.30px;top:464.56px"></div>
<div class="tl" style="left:494.8px;top:461.06px">0.2</div>
<div class="tk" style="left:488.30px;top:479.40px"></div>
<div class="tl" style="left:494.8px;top:475.90px">0</div>
<div class="tk" style="left:488.30px;top:494.24px"></div>
<div class="tl" style="left:494.8px;top:490.74px">−0.2</div>
<div class="tk" style="left:488.30px;top:509.08px"></div>
<div class="tl" style="left:494.8px;top:505.58px">−0.4</div>
<div class="tk" style="left:488.30px;top:523.92px"></div>
<div class="tl" style="left:494.8px;top:520.42px">−0.6</div>
<div class="tk" style="left:488.30px;top:538.76px"></div>
<div class="tl" style="left:494.8px;top:535.26px">−0.8</div>
<div class="tk" style="left:488.30px;top:553.60px"></div>
<div class="tl" style="left:494.8px;top:550.10px">−1</div>
</body></html>
